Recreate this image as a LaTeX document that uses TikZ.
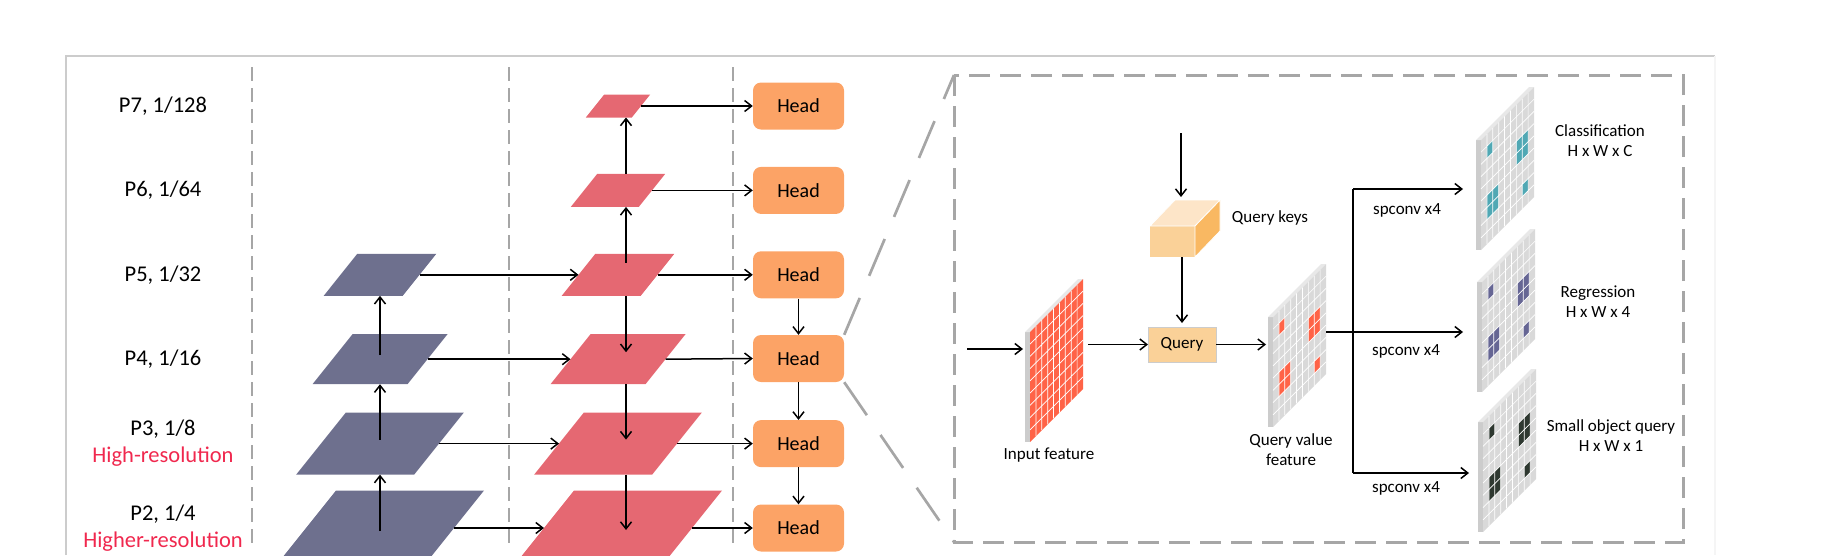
\documentclass[tikz,border=0pt]{standalone}
\usepackage{fontspec}
\setmainfont{Carlito}
\usetikzlibrary{arrows.meta,calc}

\definecolor{lvlblue}{RGB}{110,112,142}
\definecolor{lvlred}{RGB}{229,104,114}
\definecolor{headorange}{RGB}{252,163,102}
\definecolor{hires}{RGB}{240,40,78}
\definecolor{queryfill}{RGB}{250,209,152}
\definecolor{keytop}{RGB}{253,229,200}
\definecolor{keyside}{RGB}{249,184,98}
\definecolor{featred}{RGB}{255,99,71}
\definecolor{mapgray}{RGB}{217,217,217}
\definecolor{mapside}{RGB}{204,204,204}
\definecolor{maptop}{RGB}{232,232,232}
\definecolor{clsteal}{RGB}{80,168,180}
\definecolor{regslate}{RGB}{102,102,148}
\definecolor{smldark}{RGB}{46,56,48}
\definecolor{dashgray}{RGB}{166,166,166}

\tikzset{
  arr/.style={line width=1.5pt, -{Straight Barb[length=7pt,width=11pt]}},
  link/.style={line width=1.5pt},
  anchorbox/.style={inner sep=0pt, outer sep=0pt},
  headbox/.style={fill=headorange, rounded corners=8pt, minimum width=91, minimum height=47,
    inner sep=0pt, font=\fontsize{20}{24}\selectfont},
  lvllabel/.style={align=center, font=\fontsize{22.5}{27}\selectfont},
  maptext/.style={align=center, font=\fontsize{17}{20}\selectfont},
  divider/.style={draw=dashgray, line width=2.5pt, dash pattern=on 14pt off 7pt},
  zoombox/.style={draw=dashgray, line width=3pt, dash pattern=on 21pt off 10pt},
  zoomline/.style={draw=dashgray, line width=2.7pt, dash pattern=on 40pt off 24pt},
  gridline/.style={white, line width=0.7pt},
}

% one pyramid level: name, x, y, width, height, colour
\newcommand{\plane}[6]{%
  \node[anchorbox, minimum width=#4, minimum height=#5] (#1) at (#2,#3) {};
  \fill[#6] ($(#1.south west)+(-0.4*#5,0)$) -- ($(#1.south east)+(-0.4*#5,0)$)
    -- ($(#1.north east)+(0.4*#5,0)$) -- ($(#1.north west)+(0.4*#5,0)$) -- cycle;
}

% one feature map: name, x, y of the face's top left corner, face colour, spot colour
\newcommand{\fmap}[5]{%
  \node[anchorbox, minimum width=58, minimum height=163] (#1) at (#2+24,#3+28.5) {};
  \fill[mapside] (#2-5,#3) rectangle (#2,#3+110);
  \fill[maptop] (#2-5,#3) -- (#2,#3) -- (#2+53,#3-53) -- (#2+48,#3-53) -- cycle;
  \fill[#4] (#2,#3) -- (#2+53,#3-53) -- (#2+53,#3+57) -- (#2,#3+110) -- cycle;
  \begin{scope}[shift={(#2,#3)}, cm={5.889,5.889,0,12.222,(0,0)}]
    \fill[#5] (1,1) rectangle (2,2) (6,3) rectangle (8,5) (1,5) rectangle (3,7) (7,7) rectangle (8,8);
    \foreach \k in {1,...,8} {\draw[gridline] (\k,0) -- (\k,9) (0,\k) -- (9,\k);}
  \end{scope}
}

\begin{document}
\begin{tikzpicture}[x=1pt,y=-1pt]
\useasboundingbox (0,0) rectangle (1836,555);
% frame and dividers
\draw[gray!40, line width=1.5pt] (66,555) -- (66,56) -- (1715,56);
\draw[gray!8, line width=1.5pt] (1715,56) -- (1715,555);
\draw[divider] (252,67) -- (252,545);
\draw[divider] (509,67) -- (509,545);
\draw[divider] (733,67) -- (733,545);
% level labels
\node[lvllabel] (L7) at (163,106) {P7, 1/128};
\node[lvllabel] (L6) at (163,190.4) {P6, 1/64};
\node[lvllabel] (L5) at (163,274.8) {P5, 1/32};
\node[lvllabel] (L4) at (163,359.2) {P4, 1/16};
\node[lvllabel] (L3) at (163,443.6) {P3, 1/8\\\textcolor{hires}{High-resolution}};
\node[lvllabel] (L2) at (163,528) {P2, 1/4\\\textcolor{hires}{Higher-resolution}};
% backbone levels
\plane{B5}{380}{274.8}{79}{42}{lvlblue}
\plane{B4}{380}{359.2}{95}{50}{lvlblue}
\plane{B3}{380}{443.6}{118}{62}{lvlblue}
\plane{B2}{380}{528}{148}{75}{lvlblue}
% pyramid levels
\plane{R7}{618}{106}{46}{23}{lvlred}
\plane{R6}{618}{190.4}{68}{33}{lvlred}
\plane{R5}{618}{274.8}{79}{42}{lvlred}
\plane{R4}{618}{359.2}{95}{50}{lvlred}
\plane{R3}{618}{443.6}{118}{62}{lvlred}
\plane{R2}{618}{528}{148}{75}{lvlred}
% heads
\node[headbox] (H7) at (798.5,106) {Head};
\node[headbox] (H6) at (798.5,190.4) {Head};
\node[headbox] (H5) at (798.5,274.8) {Head};
\node[headbox] (H4) at (798.5,358.5) {Head};
\node[headbox] (H3) at (798.5,443.6) {Head};
\node[headbox] (H2) at (798.5,528) {Head};
% backbone arrows
\draw[arr] ([yshift=4pt]B4.center) -- (B5.south);
\draw[arr] ([yshift=4pt]B3.center) -- (B4.south);
\draw[arr] ([yshift=-3pt]B2.center) -- (B3.south);
\draw[arr] (B5.east) -- (R5.west);
\draw[arr] (B4.east) -- (R4.west);
\draw[arr] (B3.east) -- (R3.west);
\draw[arr] (B2.east) -- (R2.west);
% pyramid arrows
\draw[arr] ([xshift=8pt]R6.north) -- ([xshift=8pt]R7.south);
\draw[arr] ([xshift=8pt,yshift=-9pt]R5.north) -- ([xshift=8pt]R6.south);
\draw[arr] ([xshift=8pt]R5.south) -- ([xshift=8pt,yshift=7pt]R4.center);
\draw[arr] ([xshift=8pt]R4.south) -- ([xshift=8pt,yshift=4pt]R3.center);
\draw[arr] ([xshift=8pt]R3.south) -- ([xshift=8pt,yshift=-2pt]R2.center);
% levels to heads
\draw[arr] (R7.east) -- (H7.west);
\draw[arr] (R6.east) -- (H6.west);
\draw[arr] (R5.east) -- (H5.west);
\draw[arr] (R4.east) -- (H4.west);
\draw[arr] (R3.east) -- (H3.west);
\draw[arr] (R2.east) -- (H2.west);
\draw[arr] (H5.south) -- (H4.north);
\draw[arr] (H4.south) -- (H3.north);
\draw[arr] (H3.south) -- (H2.north);
% zoomed head
\draw[zoombox] (954,75) coordinate (zb-nw) rectangle (1683,542);
\coordinate (zb-sw) at (954,542);
\draw[zoomline] (H4.north east) -- (zb-nw);
\draw[zoomline] (H4.south east) -- (zb-sw);
% feature maps
\fmap{inF}{1030}{332}{featred}{featred}
\fmap{qvF}{1273}{317}{mapgray}{featred}
\fmap{clsF}{1481}{140}{mapgray}{clsteal}
\fmap{regF}{1482}{282}{mapgray}{regslate}
\fmap{smlF}{1483}{422}{mapgray}{smldark}
% query keys and query
\node[anchorbox, fill=queryfill, minimum width=45, minimum height=31] (qk) at (1172.5,241.5) {};
\fill[keytop, draw=white, line width=0.8pt] (qk.north west) -- ++(25,-26) -- ++(45,0) -- (qk.north east) -- cycle;
\fill[keyside, draw=white, line width=0.8pt] (qk.north east) -- ++(25,-26) -- ++(0,31) -- (qk.south east) -- cycle;
\coordinate (qk-back) at ($(qk.north)+(12.5,-26)$);
\node[anchorbox, draw=gray!40, line width=1pt, fill=queryfill, minimum width=68, minimum height=35,
  font=\fontsize{17}{20}\selectfont] (qry) at (1182,344.5) {Query};
\node[maptext] (qk-lbl) at (1270,218) {Query keys};
\node[maptext] (inF-lbl) at (1049,455) {Input feature};
\node[maptext] (qvF-lbl) at (1291,450) {Query value\\feature};
% query arrows
\coordinate (qk-src) at (1181,133);
\coordinate (in-src) at (967,349);
\draw[arr, shorten >=3pt] (qk-src) -- (qk-src |- qk-back);
\draw[arr, shorten >=4pt] (qry.north |- qk.south) -- (qry.north);
\draw[arr, shorten >=2pt] (in-src) -- (in-src -| inF.west);
\draw[arr, shorten <=5pt] (inF.east |- qry.west) -- (qry.west);
\draw[arr, shorten >=2pt] (qry.east) -- (qry.east -| qvF.west);
% spconv branches
\coordinate (br-t) at (1353,189);
\coordinate (br-m) at (1353,332);
\coordinate (br-b) at (1353,473);
\draw[link] (qvF.east |- br-m) -- (br-m);
\draw[link] (br-t) -- (br-b);
\draw[arr, shorten >=13pt] (br-t) -- (br-t -| clsF.west);
\draw[arr, shorten >=14pt] (br-m) -- (br-m -| regF.west);
\draw[arr, shorten >=9pt] (br-b) -- (br-b -| smlF.west);
\node[maptext] (sp-t) at (1407,210) {spconv x4};
\node[maptext] (sp-m) at (1406,351) {spconv x4};
\node[maptext] (sp-b) at (1406,488) {spconv x4};
% outputs
\node[maptext] (cls-lbl) at (1600,141) {Classification\\H x W x C};
\node[maptext] (reg-lbl) at (1598,301.5) {Regression\\H x W x 4};
\node[maptext] (sml-lbl) at (1611,436) {Small object query\\H x W x 1};
\end{tikzpicture}
\end{document}
